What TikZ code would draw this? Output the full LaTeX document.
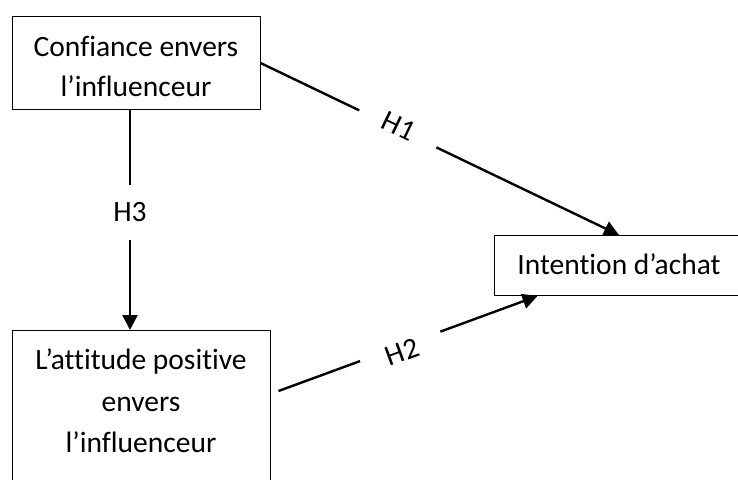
\documentclass[tikz,border=0pt]{standalone}
\usepackage{fontspec}
\setmainfont{Carlito}[Ligatures={NoCommon,NoContextual},RawFeature={-liga;-clig}]
\usepackage{tikz}
\usetikzlibrary{arrows.meta,calc,positioning}

\begin{document}
\begin{tikzpicture}[x=1pt,y=-1pt,>={Triangle[length=15pt,width=15pt]},
		font=\fontsize{29.5}{40}\selectfont]
		\tikzstyle{box}=[draw=black,line width=1pt,align=center,inner xsep=0pt,inner ysep=0pt,anchor=north]
		\tikzstyle{link}=[->,line width=2.4pt]
		\tikzstyle{hyp}=[fill=white,inner xsep=26pt,inner ysep=4pt]
		
		\useasboundingbox (0,0) rectangle (738,479);
		\clip (0,0) rectangle (738,479);
		
		\node[box,minimum width=248pt,text height=80pt,text depth=13pt] (conf) at (136,16) {Confiance envers\\l’influenceur};
		\node[box,minimum width=250pt,text height=39pt,text depth=21pt] (int) at (619,235) {Intention d’achat};
		\node[box,minimum width=258pt,text height=122pt,text depth=40pt] (att) at (141,330) {L’attitude positive\\[1.5pt]envers\\[1.5pt]l’influenceur};
		
		\coordinate (h3s) at ($(conf.south)+(-6,0)$);
		\coordinate (h3e) at ($(att.north)+(-11,0)$);
		\coordinate (h2s) at ($(att.north east)+(8,61)$);
		\coordinate (h2e) at ($(int.south west)+(44,0)$);
		
		\draw[link] (conf.east) -- node[hyp,sloped,pos=0.383,yshift=3pt] {H1} (int.north);
		\draw[link] (h2s) -- node[hyp,sloped,pos=0.47,yshift=-6pt] {H2} (h2e);
		\draw[link] (h3s) -- node[hyp,inner xsep=4pt,inner ysep=18pt,pos=0.466] {H3} (h3e);
\end{tikzpicture}
\end{document}
